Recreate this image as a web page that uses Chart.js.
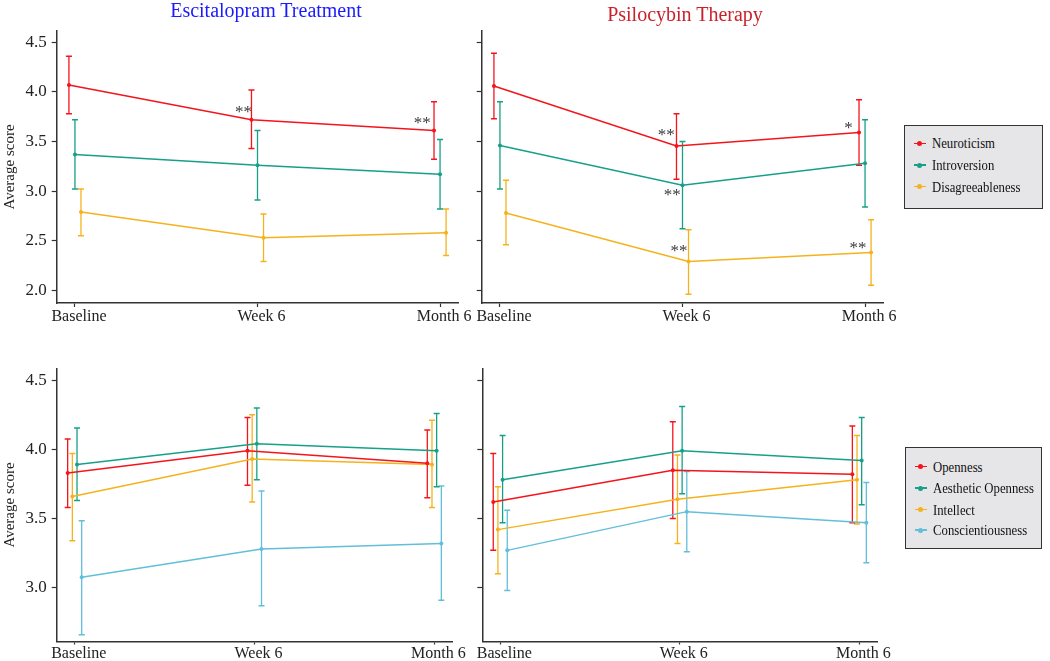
<!DOCTYPE html>
<html>
<head>
<meta charset="utf-8">
<script src="https://cdn.jsdelivr.net/npm/chart.js@4.4.1/dist/chart.umd.min.js"></script>
<style>
  body { margin: 0; background: #fff; }
  #wrap { position: relative; width: 1050px; height: 661px; overflow: hidden;
          font-family: 'Liberation Serif', 'Times New Roman', serif; }
  canvas { position: absolute; }
  .title { position: absolute; font-size: 20px; line-height: 22px; text-align: center; white-space: nowrap; }
  .legend { position: absolute; box-sizing: border-box; background: #e6e5e7; border: 1.5px solid #333; }
  .row { position: absolute; left: 8.5px; height: 18px; line-height: 18px; font-size: 15px; color: #111; white-space: nowrap; }
  .sym { display: inline-block; position: relative; width: 12px; height: 18px; vertical-align: top; margin-right: 6px; }
  .sym::before { content: ''; position: absolute; left: 0; top: 8.25px; width: 12px; height: 1.5px; background: var(--c); }
  .sym::after { content: ''; position: absolute; left: 3.5px; top: 6.5px; width: 5px; height: 5px; border-radius: 50%; background: var(--c); }
  .txt { display: inline-block; transform: scaleX(0.85); transform-origin: left center; }
</style>
</head>
<body>
<div id="wrap">
  <canvas id="escTop" width="480" height="335" style="left:0;top:0;width:480px;height:335px"></canvas>
  <canvas id="psiTop" width="430" height="335" style="left:470px;top:0;width:430px;height:335px"></canvas>
  <canvas id="escBot" width="480" height="326" style="left:0;top:335px;width:480px;height:326px"></canvas>
  <canvas id="psiBot" width="430" height="326" style="left:470px;top:335px;width:430px;height:326px"></canvas>
  <div class="title" style="left:166px;top:-1px;width:200px;color:#1a1aff">Escitalopram Treatment</div>
  <div class="title" style="left:585px;top:3px;width:200px;color:#cc1f2a">Psilocybin Therapy</div>
  <div class="legend" id="legTop" style="left:904px;top:125px;width:139px;height:84px"></div>
  <div class="legend" id="legBot" style="left:905px;top:447px;width:137px;height:102px"></div>
</div>
<script>
const timepoints = ['Baseline', 'Week 6', 'Month 6'];
const topTraits = ['Neuroticism', 'Introversion', 'Disagreeableness'];
const bottomTraits = ['Openness', 'Aesthetic Openness', 'Intellect', 'Conscientiousness'];
const topYTicks = [2.0, 2.5, 3.0, 3.5, 4.0, 4.5];
const bottomYTicks = [3.0, 3.5, 4.0, 4.5];

// one row per trait, one value per timepoint
const escTopMean = [[4.07, 3.72, 3.61], [3.37, 3.26, 3.17], [2.79, 2.53, 2.58]];
const escTopLow  = [[3.78, 3.43, 3.32], [3.02, 2.91, 2.82], [2.55, 2.29, 2.35]];
const escTopHigh = [[4.36, 4.02, 3.90], [3.72, 3.61, 3.52], [3.02, 2.77, 2.82]];

const psiTopMean = [[4.06, 3.455, 3.59], [3.46, 3.06, 3.28], [2.78, 2.29, 2.38]];
const psiTopLow  = [[3.73, 3.12, 3.26], [3.02, 2.62, 2.84], [2.46, 1.96, 2.05]];
const psiTopHigh = [[4.39, 3.78, 3.92], [3.90, 3.50, 3.72], [3.11, 2.61, 2.71]];

const escBotMean = [[3.83, 3.99, 3.90], [3.89, 4.04, 3.99], [3.66, 3.93, 3.89], [3.075, 3.28, 3.32]];
const escBotLow  = [[3.58, 3.74, 3.65], [3.63, 3.78, 3.73], [3.34, 3.62, 3.58], [2.66, 2.87, 2.91]];
const escBotHigh = [[4.075, 4.23, 4.14], [4.155, 4.30, 4.26], [3.97, 4.25, 4.21], [3.485, 3.70, 3.735]];

const psiBotMean = [[3.62, 3.85, 3.82], [3.78, 3.99, 3.92], [3.42, 3.64, 3.78], [3.27, 3.55, 3.47]];
const psiBotLow  = [[3.27, 3.50, 3.47], [3.47, 3.68, 3.60], [3.10, 3.32, 3.46], [2.98, 3.26, 3.18]];
const psiBotHigh = [[3.97, 4.20, 4.17], [4.10, 4.31, 4.23], [3.73, 3.96, 4.10], [3.56, 3.84, 3.76]];

// significance marks (x in timepoint units, y in score units)
const escStarText = ['**', '**'];
const escStarX = [0.923, 1.903];
const escStarY = [3.82, 3.71];
const psiStarText = ['**', '**', '**', '*', '**'];
const psiStarX = [0.911, 0.944, 0.981, 1.91, 1.962];
const psiStarY = [3.59, 2.99, 2.42, 3.66, 2.45];

const topColors = ['#f5141c', '#17a088', '#f6b21c'];
const bottomColors = ['#f5141c', '#17a088', '#f6b21c', '#62bfd9'];
const topDodge = [-0.033, 0, 0.033];
const bottomDodge = [-0.039, 0.013, -0.013, 0.039];

Chart.defaults.font.family = "'Liberation Serif', 'Times New Roman', serif";

const makePanel = (id, cfg) => {
  const datasets = [];
  cfg.mean.forEach((m, s) => {
    const d = cfg.dodge[s];
    const col = cfg.colors[s];
    const bars = [];
    m.forEach((v, i) => {
      bars.push({x: i + d, y: cfg.low[s][i]}, {x: i + d, y: cfg.high[s][i]}, {x: i + d, y: null});
    });
    datasets.push({
      data: bars, borderColor: col, borderWidth: 1.3, spanGaps: false,
      pointStyle: 'line', pointRadius: 3, pointBorderWidth: 1.5, pointBorderColor: col, order: 1
    });
    datasets.push({
      label: cfg.labels[s], data: m.map((v, i) => ({x: i + d, y: v})),
      borderColor: col, backgroundColor: col, borderWidth: 1.5,
      pointRadius: 2, pointBorderWidth: 0, order: 0
    });
  });

  const stars = {
    id: 'stars',
    afterDatasetsDraw(chart) {
      const {ctx, scales: {x, y}} = chart;
      ctx.save();
      ctx.font = "17px 'Liberation Serif'";
      ctx.fillStyle = '#3a3a3a';
      ctx.textAlign = 'center';
      ctx.textBaseline = 'middle';
      cfg.starText.forEach((t, i) => {
        ctx.fillText(t, x.getPixelForValue(cfg.starX[i]), y.getPixelForValue(cfg.starY[i]) + 3);
      });
      ctx.restore();
    }
  };

  new Chart(document.getElementById(id), {
    type: 'line',
    data: {datasets},
    plugins: [stars],
    options: {
      responsive: false,
      animation: false,
      events: [],
      layout: {padding: cfg.padding},
      plugins: {legend: {display: false}, tooltip: {enabled: false}},
      scales: {
        x: {
          type: 'linear', min: -0.1, max: 2.1,
          afterBuildTicks: (s) => { s.ticks = timepoints.map((t, i) => ({value: i})); },
          afterFit: (s) => { s.height = cfg.xHeight; },
          ticks: {
            callback: (v) => timepoints[v], font: {size: 16}, color: '#222',
            padding: cfg.xPad, labelOffset: 4, maxRotation: 0, autoSkip: false
          },
          grid: {drawOnChartArea: false, drawTicks: true, tickLength: cfg.xTick, color: '#333', tickColor: '#333', tickWidth: 1.2},
          border: {display: true, color: '#333', width: 1.5}
        },
        y: {
          type: 'linear', min: cfg.yMin, max: cfg.yMax,
          afterBuildTicks: (s) => { s.ticks = cfg.yTicks.map((v) => ({value: v})); },
          afterFit: (s) => { s.width = cfg.yWidth; },
          ticks: {
            callback: (v) => (cfg.showY ? v.toFixed(1) : ''), font: {size: 17}, color: '#222', padding: 5
          },
          grid: {drawOnChartArea: false, drawTicks: true, tickLength: 5, color: '#333', tickColor: '#333', tickWidth: 1.2},
          border: {display: true, color: '#333', width: 1.5},
          title: {
            display: cfg.showY, text: 'Average score', font: {size: 15}, color: '#222',
            padding: {top: 1, bottom: 0}
          }
        }
      }
    }
  });
};

makePanel('escTop', {
  mean: escTopMean, low: escTopLow, high: escTopHigh, labels: topTraits, colors: topColors, dodge: topDodge,
  starText: escStarText, starX: escStarX, starY: escStarY,
  yMin: 1.872, yMax: 4.614, yTicks: topYTicks, showY: true,
  yWidth: 56.7, xHeight: 32, xTick: 4, xPad: 0, padding: {top: 31, right: 21.7, bottom: 0, left: 0}
});
makePanel('psiTop', {
  mean: psiTopMean, low: psiTopLow, high: psiTopHigh, labels: topTraits, colors: topColors, dodge: topDodge,
  starText: psiStarText, starX: psiStarX, starY: psiStarY,
  yMin: 1.872, yMax: 4.614, yTicks: topYTicks, showY: false,
  yWidth: 11.7, xHeight: 32, xTick: 4, xPad: 0, padding: {top: 31, right: 16.7, bottom: 0, left: 0}
});
makePanel('escBot', {
  mean: escBotMean, low: escBotLow, high: escBotHigh, labels: bottomTraits, colors: bottomColors, dodge: bottomDodge,
  starText: [], starX: [], starY: [],
  yMin: 2.611, yMax: 4.585, yTicks: bottomYTicks, showY: true,
  yWidth: 56.7, xHeight: 19.5, xTick: 3, xPad: 0, padding: {top: 33.5, right: 27.7, bottom: 0, left: 0}
});
makePanel('psiBot', {
  mean: psiBotMean, low: psiBotLow, high: psiBotHigh, labels: bottomTraits, colors: bottomColors, dodge: bottomDodge,
  starText: [], starX: [], starY: [],
  yMin: 2.611, yMax: 4.585, yTicks: bottomYTicks, showY: false,
  yWidth: 12.3, xHeight: 19.5, xTick: 3, xPad: 0, padding: {top: 33.5, right: 22.7, bottom: 0, left: 0}
});

const buildLegend = (el, names, colors, rowTops) => {
  names.forEach((n, i) => {
    const row = document.createElement('div');
    row.className = 'row';
    row.style.top = rowTops[i] + 'px';
    row.innerHTML = '<span class="sym" style="--c:' + colors[i] + '"></span><span class="txt">' + n + '</span>';
    el.appendChild(row);
  });
};
buildLegend(document.getElementById('legTop'), topTraits, topColors, [8.3, 30, 51.5]);
buildLegend(document.getElementById('legBot'), bottomTraits, bottomColors, [9.5, 31, 52.5, 73]);
</script>
</body>
</html>
